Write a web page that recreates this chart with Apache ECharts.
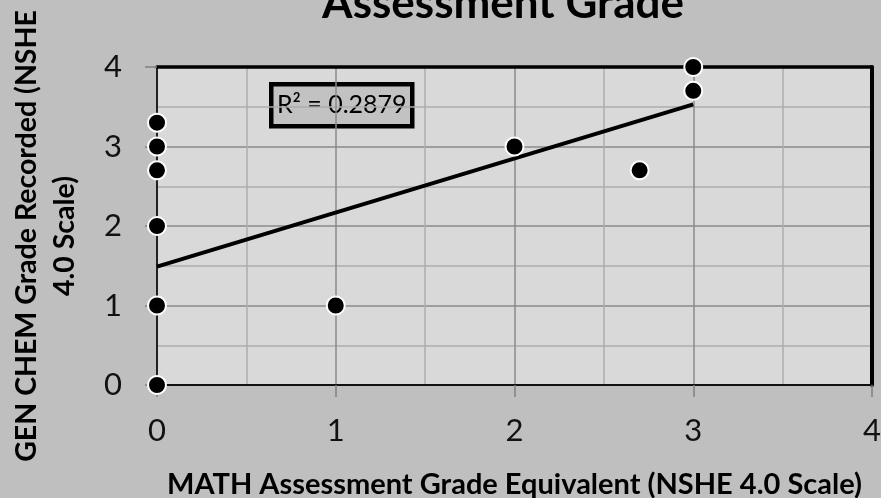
<!DOCTYPE html>
<html>
<head>
<meta charset="utf-8">
<script src="https://cdn.jsdelivr.net/npm/echarts@6/dist/echarts.min.js"></script>
<style>
  html, body { margin: 0; padding: 0; background: #bfbfbf; }
  #chart { width: 881px; height: 498px; }
</style>
</head>
<body>
<div id="chart"></div>
<script>
// data
var mathGrade = [0, 0, 0, 0, 0, 0, 1, 2, 2.7, 3, 3];
var chemGrade = [0, 1, 2, 2.7, 3, 3.3, 1, 3, 2.7, 4, 3.7];
// linear trend line, end points
var trendX = [0, 3];
var trendY = [1.49, 3.53];
var rSquared = "R² = 0.2879";
var titleText = "Assessment Grade";
var xName = "MATH Assessment Grade Equivalent (NSHE 4.0 Scale)";
var yNameLines = ["GEN CHEM Grade Recorded (NSHE", "4.0 Scale)"];

var points = [];
for (var i = 0; i < mathGrade.length; i++) {
  points.push([mathGrade[i], chemGrade[i]]);
}
var trend = [];
for (var j = 0; j < trendX.length; j++) {
  trend.push([trendX[j], trendY[j]]);
}

var font = "Lato";
var chart = echarts.init(document.getElementById("chart"));

var option = {
  backgroundColor: "#bfbfbf",
  animation: false,
  grid: {
    left: 157, right: 9, top: 67, bottom: 113,
    outerBoundsMode: "none",
    containLabel: false,
    show: true,
    backgroundColor: "#d9d9d9",
    borderWidth: 0
  },
  graphic: [
    {
      type: "text",
      x: 503,
      y: -18,
      style: {
        text: titleText,
        font: "bold 44px " + font,
        fill: "#000",
        align: "center",
        verticalAlign: "top"
      }
    },
    {
      type: "text",
      x: 46,
      y: 236,
      rotation: Math.PI / 2,
      style: {
        text: yNameLines.join("\n"),
        font: "bold 28.5px " + font,
        lineHeight: 38,
        fill: "#000",
        align: "center",
        verticalAlign: "middle"
      }
    },
    {
      type: "group",
      left: 269,
      top: 82,
      children: [
        {
          type: "rect",
          shape: { x: 2, y: 2, width: 141, height: 42 },
          style: { fill: "#c2c2c2", stroke: "#000", lineWidth: 4.5 }
        },
        {
          type: "text",
          x: 72.5,
          y: 23,
          style: {
            text: rSquared,
            font: "25px " + font,
            fill: "#000",
            align: "center",
            verticalAlign: "middle"
          }
        }
      ]
    }
  ],
  xAxis: [
    {
      type: "value",
      min: 0, max: 4, interval: 1,
      name: xName,
      nameLocation: "middle",
      nameGap: 85,
      nameTextStyle: { fontFamily: font, fontWeight: "bold", fontSize: 29, color: "#000" },
      axisLine: { show: true, onZero: false, lineStyle: { color: "#111", width: 2 } },
      axisTick: { show: true, length: 12, lineStyle: { color: "#808080", width: 1.5 } },
      axisLabel: { fontFamily: font, fontSize: 31, color: "#111", margin: 30 },
      splitLine: { show: true, lineStyle: { color: "#8a8a8a", width: 1.5 } },
      minorTick: { show: false, splitNumber: 2 },
      minorSplitLine: { show: true, lineStyle: { color: "#adadad", width: 1.5 } }
    },
    {
      type: "value",
      position: "top",
      min: 0, max: 4, interval: 1,
      axisLine: { show: true, onZero: false, lineStyle: { color: "#000", width: 3.5 } },
      axisTick: { show: false },
      axisLabel: { show: false },
      splitLine: { show: false }
    }
  ],
  yAxis: [
    {
      type: "value",
      min: 0, max: 4, interval: 1,
      axisLine: { show: true, onZero: false, lineStyle: { color: "#222", width: 2 } },
      axisTick: { show: true, length: 12, lineStyle: { color: "#808080", width: 1.5 } },
      axisLabel: { fontFamily: font, fontSize: 31, color: "#111", margin: 35 },
      splitLine: { show: true, lineStyle: { color: "#8a8a8a", width: 1.5 } },
      minorTick: { show: false, splitNumber: 2 },
      minorSplitLine: { show: true, lineStyle: { color: "#adadad", width: 1.5 } }
    },
    {
      type: "value",
      position: "right",
      min: 0, max: 4, interval: 1,
      axisLine: { show: true, onZero: false, lineStyle: { color: "#000", width: 4 } },
      axisTick: { show: false },
      axisLabel: { show: false },
      splitLine: { show: false }
    }
  ],
  series: [
    {
      name: "trend",
      type: "line",
      data: trend,
      showSymbol: false,
      symbol: "none",
      lineStyle: { color: "#000", width: 4 },
      z: 3
    },
    {
      name: "grades",
      type: "scatter",
      data: points,
      clip: false,
      symbol: "circle",
      symbolSize: 18,
      itemStyle: { color: "#000", borderColor: "#fff", borderWidth: 2, opacity: 1 },
      z: 5
    }
  ]
};

chart.setOption(option);
</script>
</body>
</html>
